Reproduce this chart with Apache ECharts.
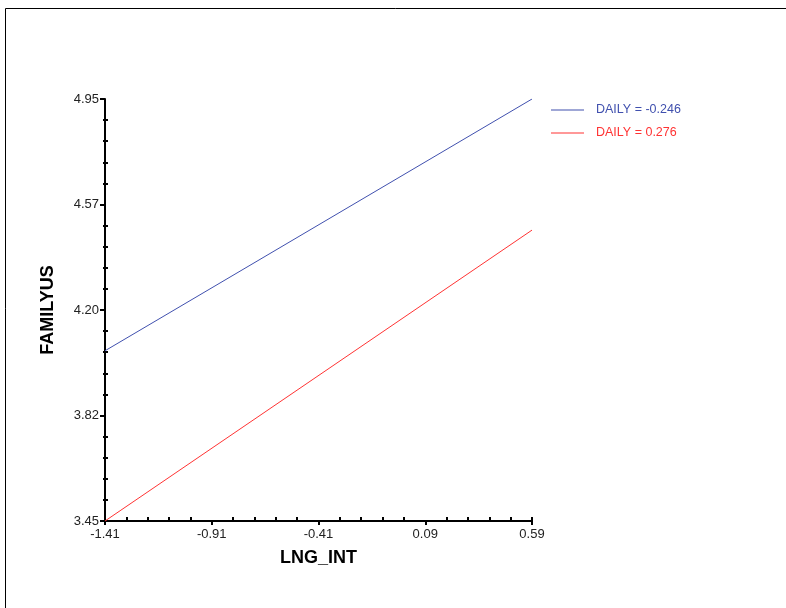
<!DOCTYPE html>
<html>
<head>
<meta charset="utf-8">
<script src="https://cdn.jsdelivr.net/npm/echarts@6/dist/echarts.min.js"></script>
<style>html,body{margin:0;padding:0;background:#fff}#c{width:786px;height:608px}</style>
</head>
<body>
<div id="c"></div>
<script>
// Data
var seriesNames = ['DAILY = -0.246', 'DAILY = 0.276'];
var lngInt = [-1.41, 0.59];
var familyusLow = [4.055, 4.95];   // DAILY = -0.246
var familyusHigh = [3.45, 4.484];  // DAILY = 0.276
var xTickValues = [-1.41, -0.91, -0.41, 0.09, 0.59];
var xTickLabels = ['-1.41', '-0.91', '-0.41', '0.09', '0.59'];
var yTickValues = [3.45, 3.825, 4.2, 4.575, 4.95];
var yTickLabels = ['3.45', '3.82', '4.20', '4.57', '4.95'];
var colors = ['#4050ae', '#ff3333'];

function subdivide(vals, n) {
  var out = [];
  for (var i = 0; i < vals.length - 1; i++) {
    for (var k = 1; k < n; k++) {
      out.push(Math.round((vals[i] + (vals[i + 1] - vals[i]) * k / n) * 100000) / 100000);
    }
  }
  return out;
}
var xMinor = subdivide(xTickValues, 5);
var yMinor = subdivide(yTickValues, 5);

function labelFor(vals, labels) {
  return function (v) {
    for (var i = 0; i < vals.length; i++) if (Math.abs(vals[i] - v) < 1e-6) return labels[i];
    return '';
  };
}

var chart = echarts.init(document.getElementById('c'), null, {renderer: 'canvas'});
var font = 'Arial, "Liberation Sans", sans-serif';
var axisLine = {show: true, onZero: false, lineStyle: {color: '#000', width: 2}};
var noLine = {show: false, onZero: false};

chart.setOption({
  animation: false,
  backgroundColor: '#fff',
  grid: {left: 105, right: 254, top: 99, bottom: 87, containLabel: false},
  legend: {
    orient: 'vertical', left: 551, top: 103, padding: 0, icon: 'rect',
    itemWidth: 33, itemHeight: 1, itemGap: 9,
    data: [
      {name: seriesNames[0], textStyle: {color: colors[0]}},
      {name: seriesNames[1], textStyle: {color: colors[1]}}
    ],
    textStyle: {fontFamily: font, fontSize: 12.5, padding: [0, 0, 0, 7], lineHeight: 14}
  },
  xAxis: [{
    type: 'value', min: lngInt[0], max: lngInt[1], position: 'bottom',
    name: 'LNG_INT', nameLocation: 'middle', nameGap: 28,
    nameTextStyle: {fontFamily: font, fontSize: 18, fontWeight: 'bold', color: '#000'},
    axisLine: axisLine,
    axisTick: {show: true, inside: false, length: 4, lineStyle: {color: '#000', width: 2}, customValues: xTickValues},
    axisLabel: {show: true, margin: 7, fontFamily: font, fontSize: 13, color: '#222', customValues: xTickValues, formatter: labelFor(xTickValues, xTickLabels)},
    splitLine: {show: false}
  }, {
    type: 'value', min: lngInt[0], max: lngInt[1], position: 'bottom',
    axisLine: noLine,
    axisTick: {show: true, inside: true, length: 4, lineStyle: {color: '#000', width: 2}, customValues: xMinor.concat([lngInt[1]])},
    axisLabel: {show: false},
    splitLine: {show: false}
  }],
  yAxis: [{
    type: 'value', min: yTickValues[0], max: yTickValues[4], position: 'left',
    name: 'FAMILYUS', nameLocation: 'middle', nameGap: 48,
    nameTextStyle: {fontFamily: font, fontSize: 18, fontWeight: 'bold', color: '#000'},
    axisLine: axisLine,
    axisTick: {show: true, inside: false, length: 5, lineStyle: {color: '#000', width: 2}, customValues: yTickValues},
    axisLabel: {show: true, margin: 6, fontFamily: font, fontSize: 13, color: '#222', customValues: yTickValues, formatter: labelFor(yTickValues, yTickLabels)},
    splitLine: {show: false}
  }, {
    type: 'value', min: yTickValues[0], max: yTickValues[4], position: 'left',
    axisLine: noLine,
    axisTick: {show: true, inside: true, length: 3, lineStyle: {color: '#000', width: 2}, customValues: yMinor},
    axisLabel: {show: false},
    splitLine: {show: false}
  }, {
    type: 'value', min: yTickValues[0], max: yTickValues[4], position: 'left',
    axisLine: noLine,
    axisTick: {show: true, inside: false, length: 2, lineStyle: {color: '#000', width: 2}, customValues: yMinor},
    axisLabel: {show: false},
    splitLine: {show: false}
  }],
  series: [{
    name: seriesNames[0], type: 'line', symbol: 'none', color: colors[0],
    lineStyle: {width: 1, color: colors[0]},
    data: lngInt.map(function (x, i) { return [x, familyusLow[i]]; })
  }, {
    name: seriesNames[1], type: 'line', symbol: 'none', color: colors[1],
    lineStyle: {width: 1, color: colors[1]},
    data: lngInt.map(function (x, i) { return [x, familyusHigh[i]]; })
  }],
  graphic: [{
    type: 'polyline', silent: true,
    shape: {points: [[5.5, 608], [5.5, 8.5], [786, 8.5]]},
    style: {stroke: '#000', lineWidth: 1, fill: null}
  }]
});
</script>
</body>
</html>
